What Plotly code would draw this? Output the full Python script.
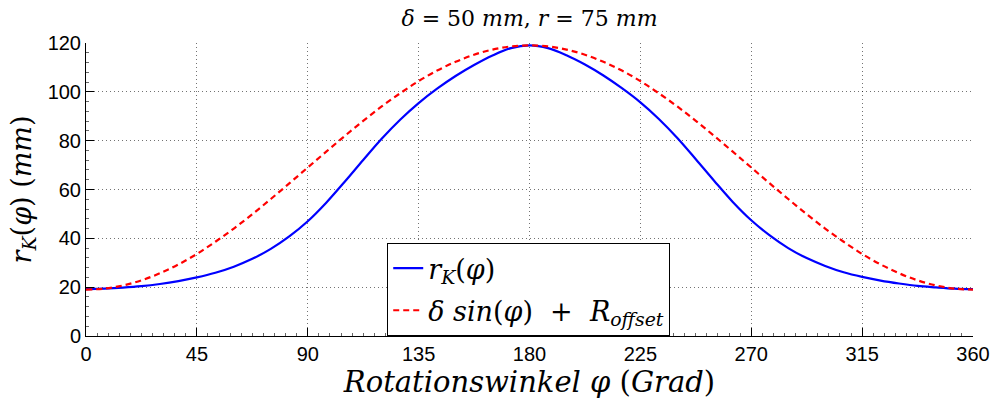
import plotly.graph_objects as go

# Rotation angle (degrees)
phi = [0, 7.5, 15, 22.5, 30, 37.5, 45, 52.5, 60, 67.5, 75, 82.5, 90, 97.5, 105, 112.5,
       120, 127.5, 135, 142.5, 150, 157.5, 165, 172.5, 180, 187.5, 195, 202.5, 210, 217.5,
       225, 232.5, 240, 247.5, 255, 262.5, 270, 277.5, 285, 292.5, 300, 307.5, 315, 322.5,
       330, 337.5, 345, 352.5, 360]

# Cam radius r_K(phi) in mm
r_k = [19.2, 19.4, 19.8, 20.4, 21.3, 22.5, 24.0, 25.9, 28.4, 31.6, 35.7, 40.8, 47.0, 54.6,
       63.2, 72.1, 80.8, 88.6, 95.4, 101.3, 106.5, 111.0, 114.9, 117.9, 119.0, 117.9, 115.0,
       111.2, 106.7, 101.5, 95.7, 88.9, 81.1, 72.4, 63.5, 54.9, 47.4, 41.2, 36.0, 31.9, 28.7,
       26.1, 24.2, 22.7, 21.5, 20.5, 19.9, 19.4, 19.2]

# Reference curve delta*sin(phi) + R_offset in mm
r_ref = [19.0, 19.4, 20.7, 22.8, 25.7, 29.3, 33.6, 38.6, 44.0, 49.9, 56.1, 62.5, 69.0, 75.5,
         81.9, 88.1, 94.0, 99.4, 104.4, 108.7, 112.3, 115.2, 117.3, 118.6, 119.0, 118.6,
         117.3, 115.2, 112.3, 108.7, 104.4, 99.4, 94.0, 88.1, 81.9, 75.5, 69.0, 62.5, 56.1,
         49.9, 44.0, 38.6, 33.6, 29.3, 25.7, 22.8, 20.7, 19.4, 19.0]

x_ticks = [0, 45, 90, 135, 180, 225, 270, 315, 360]
y_ticks = [0, 20, 40, 60, 80, 100, 120]

serif = "DejaVu Serif"
sans = "Liberation Sans"

fig = go.Figure()
fig.add_trace(go.Scatter(
    x=phi, y=r_k, mode="lines", line_shape="spline",
    line=dict(color="#0000ff", width=2.2),
    name="<i>r<sub>K</sub></i>(<i>φ</i>)", legendgroup="a",
))
fig.add_trace(go.Scatter(
    x=phi, y=r_ref, mode="lines", line_shape="spline",
    line=dict(color="#ff0000", width=2.2, dash="6px,4px"),
    name="<i>δ&nbsp;sin</i>(<i>φ</i>)&nbsp;&nbsp;+&nbsp;&nbsp;<i>R<sub>offset</sub></i>",
    legendgroup="b",
))

grid_color = "rgba(0,0,0,0.55)"
axis_common = dict(
    showline=True, linecolor="black", linewidth=1,
    ticks="inside", ticklen=8, tickcolor="black",
    showgrid=True, gridcolor=grid_color, griddash="1px,3px", gridwidth=1,
    zeroline=False, mirror=False, automargin=False,
    tickfont=dict(family=sans, size=20, color="black"),
)

fig.update_xaxes(
    range=[0, 360], tickvals=x_ticks, ticktext=[str(v) for v in x_ticks],
    minor=dict(ticks="inside", ticklen=3, tickcolor="#666", dtick=4.5, showgrid=False),
    title=dict(text="<i>Rotationswinkel φ</i> (<i>Grad</i>)",
               font=dict(family=serif, size=29, color="black"), standoff=2),
    **axis_common,
)
fig.update_yaxes(
    range=[0, 120], tickvals=y_ticks, ticktext=[str(v) for v in y_ticks],
    minor=dict(ticks="inside", ticklen=3, tickcolor="#666", dtick=4, showgrid=False),
    title=dict(text="<i>r<sub>K</sub></i>(<i>φ</i>) (<i>mm</i>)",
               font=dict(family=serif, size=27, color="black"), standoff=8),
    **axis_common,
)

fig.update_layout(
    width=999, height=399,
    margin=dict(l=86, r=26, t=43, b=63),
    paper_bgcolor="white", plot_bgcolor="white",
    title=dict(text="<i>δ</i> = 50 <i>mm</i>, <i>r</i> = 75 <i>mm</i>",
               font=dict(family=serif, size=22, color="black"),
               x=0.53, xanchor="center", y=0.955, yanchor="middle"),
    legend=dict(
        x=0.3396, y=0.317, xanchor="left", yanchor="top",
        bgcolor="white", bordercolor="black", borderwidth=1,
        font=dict(family=serif, size=27, color="black"),
        tracegroupgap=4, itemwidth=30,
    ),
    showlegend=True,
)

fig.write_html("out.html")
